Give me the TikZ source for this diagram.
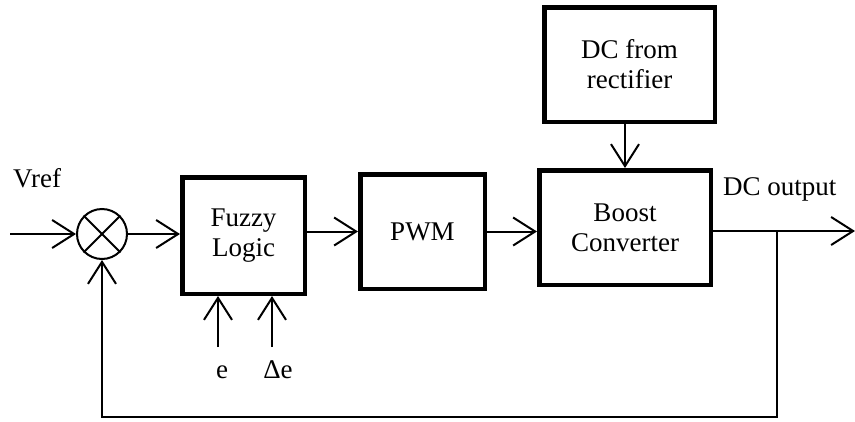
\documentclass[tikz,border=0pt]{standalone}
\usepackage{fontspec}
\setmainfont{Liberation Serif}
\usetikzlibrary{arrows.meta,calc}
\begin{document}
\begin{tikzpicture}[x=1pt,y=-1pt,
  every node/.style={font=\fontsize{27}{30}\selectfont},
  block/.style={draw,line width=4.5pt,align=center,inner sep=0pt},
  wire/.style={line width=2pt},
  arr/.style={wire,-{Straight Barb[length=22pt,width=28pt]}},
  lbl/.style={inner sep=0pt}]
\useasboundingbox (0,0) rectangle (855,421);

% blocks
\node[block,minimum width=122.5pt,minimum height=116.5pt] (fz) at (243.5,235.5) {Fuzzy\\Logic};
\node[block,minimum width=124.5pt,minimum height=114.5pt] (pwm) at (422.5,231.5) {PWM};
\node[block,minimum width=171.5pt,minimum height=114.5pt] (boost) at (625,227.5) {Boost\\Converter};
\node[block,minimum width=170.5pt,minimum height=114.5pt] (rect) at (629.5,64.5) {DC from\\rectifier};

% summing junction
\node[circle,draw,wire,minimum size=50pt,inner sep=0pt] (sum) at (102,234) {};
\draw[wire] (sum.north west) -- (sum.south east);
\draw[wire] (sum.north east) -- (sum.south west);

% free ends
\coordinate (in) at (10,234);
\coordinate (out) at (855,231);
\coordinate (tap) at (777,231);
\coordinate (fb) at (777,417);
\coordinate (ein) at (218,347);
\coordinate (dein) at (272,347);

% signal path
\draw[arr] (in) -- (sum.west);
\draw[arr] (sum.east) -- (fz.west |- sum);
\draw[arr] (fz.east |- pwm) -- (pwm.west);
\draw[arr] (pwm.east) -- (boost.west |- pwm);
\draw[arr] (rect.south -| 625,0) -- (boost.north);
\draw[arr] (boost.east |- out) -- (out);
\draw[arr] (tap) -- (fb) -| (sum.south);
\draw[arr] (ein) -- (fz.south -| ein);
\draw[arr] (dein) -- (fz.south -| dein);

% labels
\node[lbl,anchor=base west] (vref) at (13,187) {Vref};
\node[lbl,anchor=base west] (dcout) at (723,195) {DC output};
\node[lbl,anchor=base] (elbl) at (222,378) {e};
\node[lbl,anchor=base] (delbl) at (278,378) {Δe};
\end{tikzpicture}
\end{document}
